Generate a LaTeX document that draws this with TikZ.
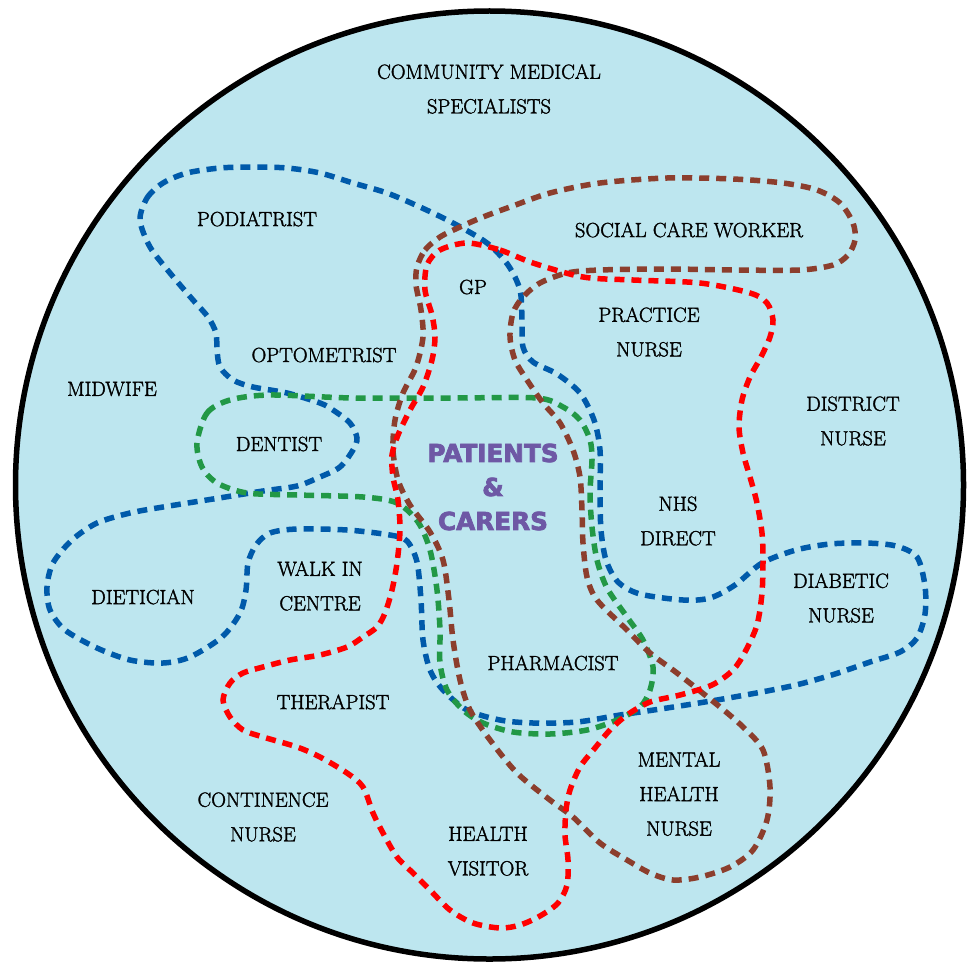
\documentclass[tikz,border=0pt]{standalone}
\usepackage{fontspec}
\newfontfamily\rolefont{Latin Modern Roman}[FakeBold=1.6]
\newfontfamily\heavyfont{DejaVu Sans}[FakeBold=3]
\definecolor{skyfill}{RGB}{189,230,239}
\definecolor{ringblue}{RGB}{0,90,170}
\definecolor{ringred}{RGB}{255,0,0}
\definecolor{ringbrown}{RGB}{140,62,45}
\definecolor{ringgreen}{RGB}{34,152,70}
\definecolor{carepurple}{RGB}{110,88,165}
\tikzset{
	role/.style={font=\rolefont\fontsize{20.5}{34.5}\selectfont, align=center, inner sep=0pt},
	ring/.style={line width=5.5pt, dash pattern=on 10pt off 7pt},
}
\begin{document}
\begin{tikzpicture}[x=1pt,y=-1pt]
		\useasboundingbox (0,0) rectangle (974,963);
		\draw[line width=5.5pt, fill=skyfill] (489.5,485) circle (474);
		\draw[ring, ringblue] plot[smooth cycle] coordinates {(140,220) (147,198) (163,183) (187,173) (220,168) (253,167) (287,168) (320,173) (353,183) (387,193) (420,207) (453,223) (487,243) (508,265) (520,290) (522,320) (523,347) (533,362) (557,374) (580,393) (594,420) (600,450) (600,493) (601,530) (606,560) (618,582) (640,594) (683,600) (710,598) (735,585) (762,563) (796,550) (830,544) (866,543) (896,546) (917,557) (925,586) (925,614) (917,638) (900,652) (870,662) (835,674) (800,684) (767,691) (717,700) (667,708) (620,715) (577,722) (533,723) (500,720) (467,710) (443,690) (430,670) (423,640) (421,600) (417,562) (407,541) (390,535) (347,530) (297,529) (270,533) (256,545) (248,563) (246,590) (240,613) (222,637) (190,657) (163,663) (130,660) (97,648) (65,630) (50,610) (47,587) (53,563) (72,540) (97,523) (130,513) (163,507) (213,499) (263,491) (297,486) (320,477) (340,467) (353,450) (357,438) (350,423) (333,410) (320,403) (287,393) (253,387) (233,380) (220,367) (217,350) (216,333) (208,317) (193,300) (170,273) (150,247)};
		\draw[ring, ringgreen] plot[smooth cycle] coordinates {(197,443) (207,413) (230,400) (270,395) (353,398) (453,398) (537,398) (563,407) (580,420) (590,440) (592,460) (590,493) (592,527) (597,560) (607,588) (627,617) (643,640) (653,667) (650,690) (640,707) (617,720) (587,730) (550,734) (513,732) (483,723) (463,710) (447,690) (440,663) (440,630) (437,590) (430,550) (418,522) (397,503) (363,497) (297,495) (247,493) (217,483) (202,467)};
		\draw[ring, ringbrown] plot[smooth cycle] coordinates {(417,267) (425,250) (440,237) (460,227) (483,217) (510,207) (550,193) (600,183) (667,178) (733,179) (783,183) (817,190) (840,203) (853,223) (855,240) (848,255) (833,265) (800,270) (733,270) (667,269) (600,270) (567,273) (540,283) (523,297) (513,313) (510,337) (515,360) (527,380) (543,403) (560,423) (573,450) (580,477) (582,510) (583,543) (587,577) (597,600) (627,630) (650,653) (677,673) (720,707) (743,727) (763,750) (770,787) (767,820) (753,850) (730,867) (700,877) (673,880) (650,873) (627,860) (600,843) (573,817) (550,800) (517,773) (490,740) (470,710) (460,680) (453,640) (449,600) (443,560) (430,532) (410,505) (398,480) (393,450) (395,420) (403,393) (416,367) (423,337) (421,310) (416,285)};
		\draw[ring, ringred] plot[smooth cycle] coordinates {(467,243) (500,250) (533,263) (583,277) (633,280) (700,283) (750,293) (767,303) (773,320) (770,337) (761,357) (750,377) (742,400) (739,427) (743,453) (750,477) (757,503) (762,533) (763,560) (762,593) (757,625) (745,652) (733,670) (712,685) (680,695) (650,702) (627,715) (610,730) (595,748) (580,767) (570,790) (566,810) (565,835) (568,860) (567,885) (558,903) (540,916) (520,925) (500,928) (473,923) (450,910) (430,890) (413,873) (397,857) (383,833) (373,813) (363,787) (347,773) (320,757) (297,747) (263,737) (243,730) (230,717) (223,700) (230,683) (243,673) (263,667) (290,660) (320,655) (347,647) (363,637) (377,627) (385,613) (392,590) (397,563) (400,530) (398,500) (393,477) (392,455) (398,435) (410,410) (423,387) (432,360) (435,337) (432,315) (425,290) (427,265) (440,250)};
		\draw (489,89) node[role] (specialists) {COMMUNITY MEDICAL\\SPECIALISTS};
		\draw (257,219) node[role] (podiatrist) {PODIATRIST};
		\draw (689,230) node[role] (socialcare) {SOCIAL CARE WORKER};
		\draw (473,287) node[role] (gp) {GP};
		\draw (649,332) node[role] (practice) {PRACTICE\\NURSE};
		\draw (324,355) node[role] (optometrist) {OPTOMETRIST};
		\draw (112,389) node[role] (midwife) {MIDWIFE};
		\draw (853,421) node[role] (district) {DISTRICT\\NURSE};
		\draw (279,444) node[role] (dentist) {DENTIST};
		\draw (493,487) node[font=\heavyfont\bfseries\fontsize{24.7}{34}\selectfont, text=carepurple, align=center, inner sep=0pt] (patients) {PATIENTS\\\&\\CARERS};
		\draw (678,521) node[role] (nhs) {NHS\\DIRECT};
		\draw (143,597) node[role] (dietician) {DIETICIAN};
		\draw (320,586) node[role] (walkin) {WALK IN\\CENTRE};
		\draw (841,598) node[role] (diabetic) {DIABETIC\\NURSE};
		\draw (553,663) node[role] (pharmacist) {PHARMACIST};
		\draw (333,702) node[role] (therapist) {THERAPIST};
		\draw (679,794) node[role] (mental) {MENTAL\\HEALTH\\NURSE};
		\draw (263,817) node[role] (continence) {CONTINENCE\\NURSE};
		\draw (488,851) node[role] (visitor) {HEALTH\\VISITOR};
	\end{tikzpicture}
\end{document}
